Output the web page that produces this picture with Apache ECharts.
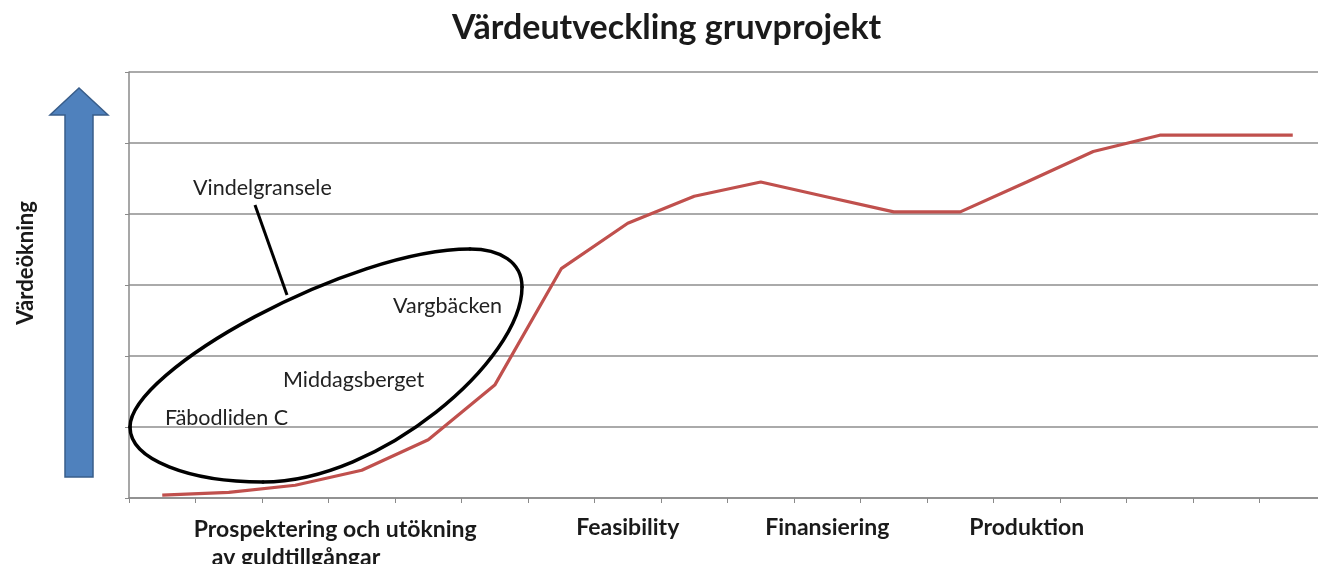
<!DOCTYPE html>
<html>
<head>
<meta charset="utf-8">
<script src="https://cdn.jsdelivr.net/npm/echarts@6/dist/echarts.min.js"></script>
<style>
  html, body { margin: 0; padding: 0; background: #fff; }
  #chartLineBox { width: 1318px; height: 564px; }
</style>
</head>
<body>
<div id="chartLineBox"></div>
<script>
// 18 steps along the project, phase names on a few of them
var steps = ['1', '2', '3', '4', '5', '6', '7', '8', '9', '10', '11', '12', '13', '14', '15', '16', '17', '18'];
var tickLabels = ['', '', 'Prospektering och utökning|av guldtillgångar', '', '', '', '', 'Feasibility', '', '', 'Finansiering', '', '', 'Produktion', '', '', '', ''];
var values = [0.04, 0.08, 0.18, 0.39, 0.82, 1.59, 3.23, 3.87, 4.25, 4.45, 4.24, 4.03, 4.03, 4.45, 4.88, 5.11, 5.11, 5.11];
var projects = ['Vindelgransele', 'Vargbäcken', 'Middagsberget', 'Fäbodliden C'];

var chart = echarts.init(document.getElementById('chartLineBox'));

// one quarter of the hand drawn ring
function ringPart(x1, y1, cpx1, cpy1, cpx2, cpy2, x2, y2) {
  return {
    type: 'bezierCurve',
    shape: { x1: x1, y1: y1, cpx1: cpx1, cpy1: cpy1, cpx2: cpx2, cpy2: cpy2, x2: x2, y2: y2 },
    style: { fill: null, stroke: '#000', lineWidth: 3.5, lineCap: 'round' },
    z: 10
  };
}

var option = {
  animation: false,
  backgroundColor: '#fff',
  title: {
    text: 'Värdeutveckling gruvprojekt',
    left: 447,
    top: 6,
    textStyle: { fontFamily: 'Lato', fontWeight: 'bold', fontSize: 34, color: '#1a1a1a' }
  },
  grid: { left: 129, width: 1197, top: 72, bottom: 66, outerBoundsMode: 'none' },
  xAxis: {
    type: 'category',
    data: steps,
    boundaryGap: true,
    axisLine: { lineStyle: { color: '#8a8a8a', width: 1.5 } },
    axisTick: { show: true, length: 5, alignWithLabel: false, lineStyle: { color: '#8a8a8a' } },
    axisLabel: {
      interval: 0,
      margin: 18,
      fontFamily: 'Lato',
      fontWeight: 'bold',
      fontSize: 23,
      color: '#1a1a1a',
      formatter: function (v, i) {
        var t = tickLabels[i];
        if (t.indexOf('|') > -1) {
          var parts = t.split('|');
          return '{a|' + parts[0] + '}\n{b|' + parts[1] + '}';
        }
        return t;
      },
      rich: {
        a: { align: 'left', padding: [0, 0, 0, 80], fontFamily: 'Lato', fontWeight: 'bold', fontSize: 23, color: '#1a1a1a', lineHeight: 28 },
        b: { align: 'left', padding: [0, 0, 0, 98], fontFamily: 'Lato', fontWeight: 'bold', fontSize: 23, color: '#1a1a1a', lineHeight: 28 }
      }
    }
  },
  yAxis: {
    type: 'value',
    min: 0,
    max: 6,
    interval: 1,
    axisLine: { show: true, lineStyle: { color: '#8a8a8a', width: 1.5 } },
    axisTick: { show: true, length: 4, lineStyle: { color: '#8a8a8a' } },
    axisLabel: { show: false },
    splitLine: { lineStyle: { color: '#8e8e8e', width: 1.5 } }
  },
  series: [
    {
      type: 'line',
      data: values,
      symbol: 'none',
      lineStyle: { color: '#c0504d', width: 3.2 },
      z: 3
    }
  ],
  graphic: [
    // blue arrow
    {
      type: 'polygon',
      shape: { points: [[65, 477], [93, 477], [93, 115], [108, 115], [79, 88], [50, 115], [65, 115]] },
      style: { fill: '#4f81bd', stroke: '#385d8a', lineWidth: 1.5 }
    },
    {
      type: 'text',
      x: 26, y: 263,
      rotation: Math.PI / 2,
      style: { text: 'Värdeökning', fontFamily: 'Lato', fontWeight: 'bold', fontSize: 22, fill: '#1a1a1a', align: 'center', verticalAlign: 'middle' }
    },
    ringPart(130, 427, 130, 370, 350, 249, 470, 249),
    ringPart(470, 249, 500, 249, 522, 262, 522, 287),
    ringPart(522, 287, 522, 360, 380, 482, 263, 482),
    ringPart(263, 482, 190, 482, 130, 460, 130, 427),
    {
      type: 'line',
      shape: { x1: 255, y1: 205, x2: 287, y2: 295 },
      style: { stroke: '#000', lineWidth: 3 },
      z: 10
    },
    { type: 'text', x: 193, y: 188, style: { text: projects[0], fontFamily: 'Lato', fontSize: 21.5, fill: '#222', verticalAlign: 'middle' }, z: 10 },
    { type: 'text', x: 393, y: 306, style: { text: projects[1], fontFamily: 'Lato', fontSize: 21.5, fill: '#222', verticalAlign: 'middle' }, z: 10 },
    { type: 'text', x: 283, y: 380, style: { text: projects[2], fontFamily: 'Lato', fontSize: 21.5, fill: '#222', verticalAlign: 'middle' }, z: 10 },
    { type: 'text', x: 165, y: 418, style: { text: projects[3], fontFamily: 'Lato', fontSize: 21.5, fill: '#222', verticalAlign: 'middle' }, z: 10 }
  ]
};

chart.setOption(option);
</script>
</body>
</html>
